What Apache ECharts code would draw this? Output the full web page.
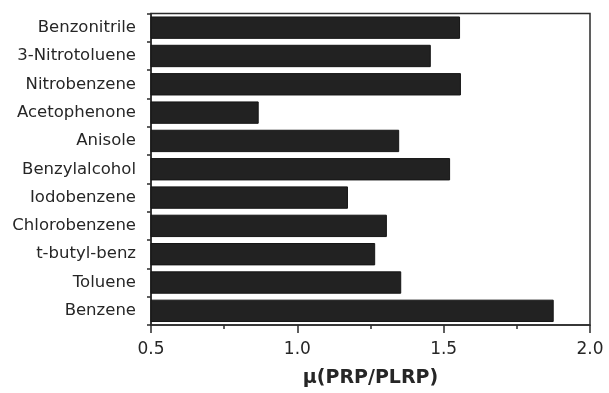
<!DOCTYPE html>
<html>
<head>
<meta charset="utf-8">
<script src="https://cdn.jsdelivr.net/npm/echarts@6/dist/echarts.min.js"></script>
<style>
  html, body { margin: 0; padding: 0; background: #fff; }
  #chart { width: 609px; height: 393px; }
</style>
</head>
<body>
<div id="chart"></div>
<script>
// solutes, top to bottom
const solutes = ['Benzonitrile', '3-Nitrotoluene', 'Nitrobenzene', 'Acetophenone', 'Anisole',
  'Benzylalcohol', 'Iodobenzene', 'Chlorobenzene', 't-butyl-benz', 'Toluene', 'Benzene'];
// mu(PRP/PLRP)
const muRatio = [1.556, 1.456, 1.559, 0.868, 1.348, 1.522, 1.173, 1.306, 1.266, 1.355, 1.876];
const xTicks = [0.5, 1.0, 1.5, 2.0];

const chart = echarts.init(document.getElementById('chart'));
const labelFont = 'DejaVu Sans';

chart.setOption({
  animation: false,
  grid: {
    left: 151, right: 19, top: 13.5, bottom: 67,
    show: true, borderColor: '#2b2b2b', borderWidth: 1.5
  },
  xAxis: {
    type: 'value',
    min: xTicks[0],
    max: xTicks[xTicks.length - 1],
    interval: 0.5,
    name: 'μ(PRP/PLRP)',
    nameLocation: 'middle',
    nameGap: 44,
    nameTextStyle: { fontFamily: labelFont, fontWeight: 'bold', fontSize: 19, color: '#262626' },
    axisLine: { show: true, lineStyle: { color: '#2b2b2b', width: 1.5 } },
    axisTick: { show: true, length: 8, lineStyle: { color: '#2b2b2b', width: 1.5 } },
    minorTick: { show: true, splitNumber: 2, length: 4, lineStyle: { color: '#2b2b2b', width: 1.5 } },
    splitLine: { show: false },
    axisLabel: {
      margin: 16, fontFamily: labelFont, fontSize: 17, color: '#262626',
      formatter: v => v.toFixed(1)
    }
  },
  yAxis: {
    type: 'category',
    data: solutes,
    inverse: true,
    axisLine: { show: true, lineStyle: { color: '#2b2b2b', width: 1.5 } },
    axisTick: { show: true, length: 4, lineStyle: { color: '#2b2b2b', width: 1.5 } },
    axisLabel: { margin: 15, fontFamily: labelFont, fontSize: 16.5, color: '#262626' }
  },
  series: [{
    type: 'bar',
    data: muRatio,
    barCategoryGap: '21%',
    itemStyle: { color: '#222', borderColor: '#151515', borderWidth: 1 }
  }]
});
</script>
</body>
</html>
